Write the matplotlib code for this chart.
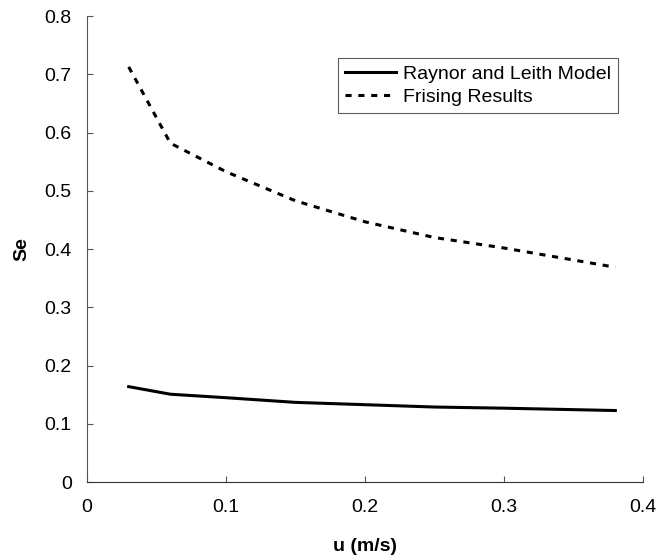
import matplotlib
matplotlib.use("Agg")
import matplotlib.pyplot as plt

# air speed (m/s) and efficiency
U = [0.03, 0.06, 0.10, 0.15, 0.20, 0.25, 0.30, 0.38]
RAYNOR = [0.164, 0.151, 0.145, 0.137, 0.133, 0.129, 0.127, 0.123]
FRISING = [0.713, 0.582, 0.533, 0.483, 0.447, 0.420, 0.402, 0.369]

XTICKS = [0, 0.1, 0.2, 0.3, 0.4]
XTICKLABELS = ["0", "0.1", "0.2", "0.3", "0.4"]
YTICKS = [0, 0.1, 0.2, 0.3, 0.4, 0.5, 0.6, 0.7, 0.8]
YTICKLABELS = ["0", "0.1", "0.2", "0.3", "0.4", "0.5", "0.6", "0.7", "0.8"]

plt.rcParams["font.family"] = ["Liberation Sans", "DejaVu Sans"]
FS = 14

fig = plt.figure(figsize=(6.59, 5.6), dpi=100)
ax = fig.add_axes([0.132, 0.139, 0.844, 0.832])

ax.plot(U, RAYNOR, color="black", lw=2.2, label="Raynor and Leith Model")
ax.plot(U, FRISING, color="black", lw=2.2, ls=(0, (2, 2.2)), label="Frising Results")

ax.set_xlim(0, 0.4)
ax.set_ylim(0, 0.8)
ax.set_xticks(XTICKS)
ax.set_xticklabels(XTICKLABELS)
ax.set_yticks(YTICKS)
ax.set_yticklabels(YTICKLABELS)
ax.tick_params(direction="in", length=4.5, width=0.8, labelsize=FS, color="#555555")
ax.tick_params(axis="x", pad=12)
ax.tick_params(axis="y", pad=11)

for s in ("top", "right"):
    ax.spines[s].set_visible(False)
ax.spines["left"].set_color("#555555")
ax.spines["bottom"].set_color("#333333")
ax.spines["left"].set_linewidth(0.8)
ax.spines["bottom"].set_linewidth(0.8)

ax.set_xlabel("u (m/s)", fontsize=FS, fontweight="bold", labelpad=16)
ax.set_ylabel("Se", fontsize=FS, fontweight="bold", labelpad=10)

leg = ax.legend(loc="upper right", bbox_to_anchor=(0.955, 0.91), fontsize=FS,
                frameon=True, fancybox=False, edgecolor="#333333",
                handlelength=2.6, handletextpad=0.4, borderpad=0.35,
                labelspacing=0.3, borderaxespad=0)
leg.get_frame().set_linewidth(0.8)

fig.savefig("out.png", dpi=100)
